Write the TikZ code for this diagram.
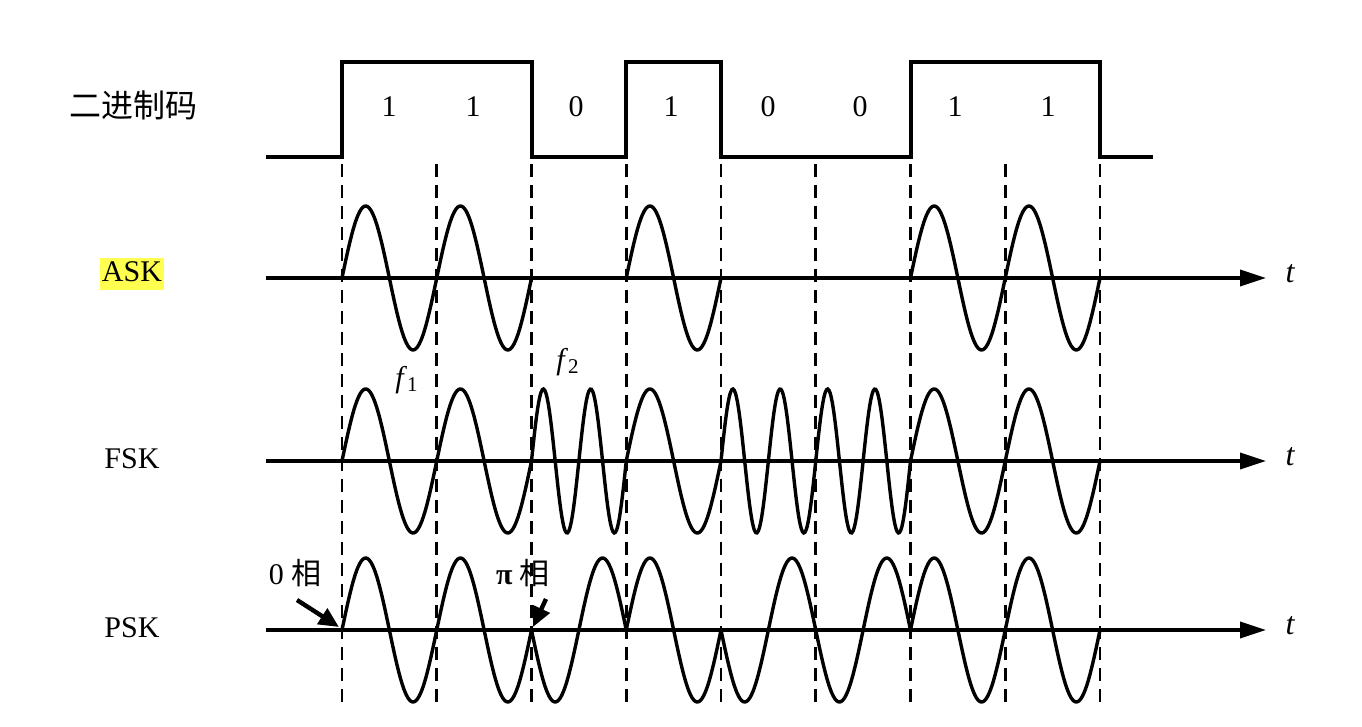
\documentclass[tikz,border=0pt]{standalone}
\usepackage{fontspec}
\setmainfont{Liberation Serif}
\newfontfamily\cjk{Noto Sans CJK SC}
\usetikzlibrary{arrows.meta}
\definecolor{hlyellow}{RGB}{255,255,80}
\begin{document}
\begin{tikzpicture}[x=0.5pt,y=-0.5pt,font=\fontsize{15}{18}\selectfont,
  wave/.style={line width=1.7pt},
  axis/.style={line width=1.8pt,-{Triangle[length=13pt,width=8pt]}},
  guide/.style={line width=1.4pt,dash pattern=on 6.5pt off 4pt},
  phase/.style={line width=2.2pt,-{Triangle[length=10pt,width=9pt]}}]
  \useasboundingbox (0,0) rectangle (1362,727);
  \def\T{94.75}\def\xo{342}\def\A{72}
  % bit boundaries
  \foreach \i in {0,...,8}
    \draw[guide] ({\xo+\i*\T},164) -- ({\xo+\i*\T},708);
  % binary code
  \draw[line width=2pt] (266,157)--(342,157)--(342,62)--(531.5,62)--(531.5,157)--(626.25,157)--(626.25,62)
    --(721,62)--(721,157)--(910.5,157)--(910.5,62)--(1100,62)--(1100,157)--(1153,157);
  \foreach \b/\xd [count=\i] in {1/389,1/473,0/576,1/671,0/768,0/860,1/955,1/1048}
    \node (d\i) at (\xd,107) {\b};
  % axes
  \foreach \n/\y in {ask/278,fsk/461,psk/630}{
    \coordinate (\n S) at (266,\y); \coordinate (\n E) at (1266,\y);
    \draw[axis] (\n S) -- (\n E);
    \node[font=\fontsize{16}{18}\selectfont] (\n t) at (1290,\y-4) {\itshape t};
  }
  % waveforms
  \foreach \b [count=\i from 0] in {1,1,0,1,0,0,1,1}{
    \ifnum\b=1
      \draw[wave] plot[domain=0:1,samples=60,smooth] ({\xo+(\i+\x)*\T},{278-\A*sin(360*\x)});
    \fi
    \draw[wave] plot[domain=0:1,samples=80,smooth] ({\xo+(\i+\x)*\T},{461-\A*sin(360*(2-\b)*\x)});
    \draw[wave] plot[domain=0:1,samples=60,smooth] ({\xo+(\i+\x)*\T},{630-\A*(2*\b-1)*sin(360*\x)});
  }
  % labels
  \node[font=\fontsize{16}{18}\selectfont\cjk] (code) at (133,105) {二进制码};
  \node[anchor=base,fill=hlyellow,inner sep=0pt,inner xsep=1pt,text height=12pt,text depth=4pt] (ask) at (132,282) {ASK};
  \node[anchor=base] (fsk) at (132,469) {FSK};
  \node[anchor=base] (psk) at (132,638) {PSK};
  \node (f1) at (407,380) {\textit{f}\textsubscript{1}};
  \node (f2) at (568,362) {\textit{f}\textsubscript{2}};
  \node (ph0) at (295,573) {0 {\cjk 相}};
  \node (phpi) at (523,573) {\textbf{π} {\cjk 相}};
  \coordinate (ph0tail) at (297,600); \coordinate (ph0tip) at (339,627);
  \coordinate (phpitail) at (546,599); \coordinate (phpitip) at (533,627);
  \draw[phase] (ph0tail) -- (ph0tip);
  \draw[phase] (phpitail) -- (phpitip);
\end{tikzpicture}
\end{document}
